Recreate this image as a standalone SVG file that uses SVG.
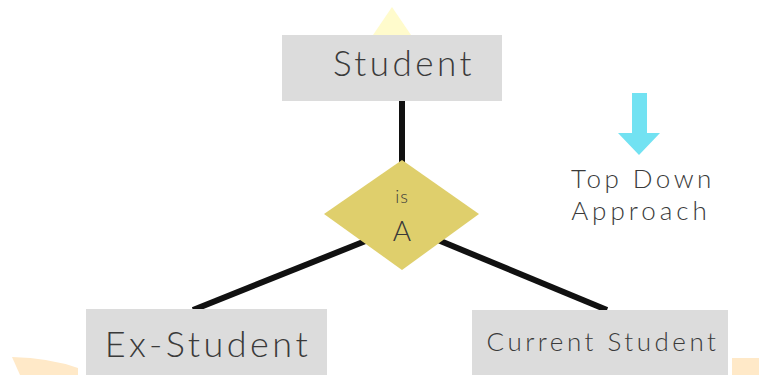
<svg xmlns="http://www.w3.org/2000/svg" width="759" height="375" viewBox="0 0 759 375">
  <style>
    .box { fill: #dcdcdc; }
    .lbl { font-family: Lato, "Liberation Sans", sans-serif; font-weight: 300; fill: #3a3a3a; text-anchor: middle; letter-spacing: 3.5px; }
    .conn { stroke: #111; stroke-width: 6; stroke-linecap: butt; fill: none; }
  </style>
  <rect width="759" height="375" fill="#ffffff"/>

  <!-- pale background decorations -->
  <polygon points="392,7 373,35 411,35" fill="#fffbcc"/>
  <path d="M12,357 Q50,358 78,368 L78,375 L20,375 Z" fill="#ffe9c8"/>
  <rect x="732" y="358" width="27" height="17" fill="#ffe9c8"/>

  <!-- connectors -->
  <g id="connectors">
    <line class="conn" x1="402" y1="101" x2="402" y2="164"/>
    <line class="conn" x1="368" y1="240" x2="193" y2="310"/>
    <line class="conn" x1="438" y1="240" x2="607" y2="310"/>
  </g>

  <g id="student">
    <rect class="box" x="282" y="35" width="220" height="66"/>
    <text class="lbl" x="404" y="76" font-size="35">Student</text>
  </g>

  <g id="isa">
    <polygon points="402,160 479,214 402,270 324,214" fill="#dfcf6c"/>
    <text class="lbl" x="402" y="203" font-size="18" style="letter-spacing:1px">is</text>
    <text class="lbl" x="402" y="241" font-size="28" style="letter-spacing:0">A</text>
  </g>

  <g id="ex-student">
    <rect class="box" x="86" y="309" width="241" height="66"/>
    <text class="lbl" x="208" y="357" font-size="36">Ex-Student</text>
  </g>

  <g id="current-student">
    <rect class="box" x="472" y="310" width="256" height="65"/>
    <text class="lbl" x="603" y="351" font-size="26">Current Student</text>
  </g>

  <g id="top-down">
    <polygon points="632,93 647,93 647,133 660,133 639,155 618,133 632,133" fill="#72e2f2"/>
    <text class="lbl" x="643" y="188" font-size="26">Top Down</text>
    <text class="lbl" x="641" y="220" font-size="26" style="letter-spacing:4px">Approach</text>
  </g>
</svg>
